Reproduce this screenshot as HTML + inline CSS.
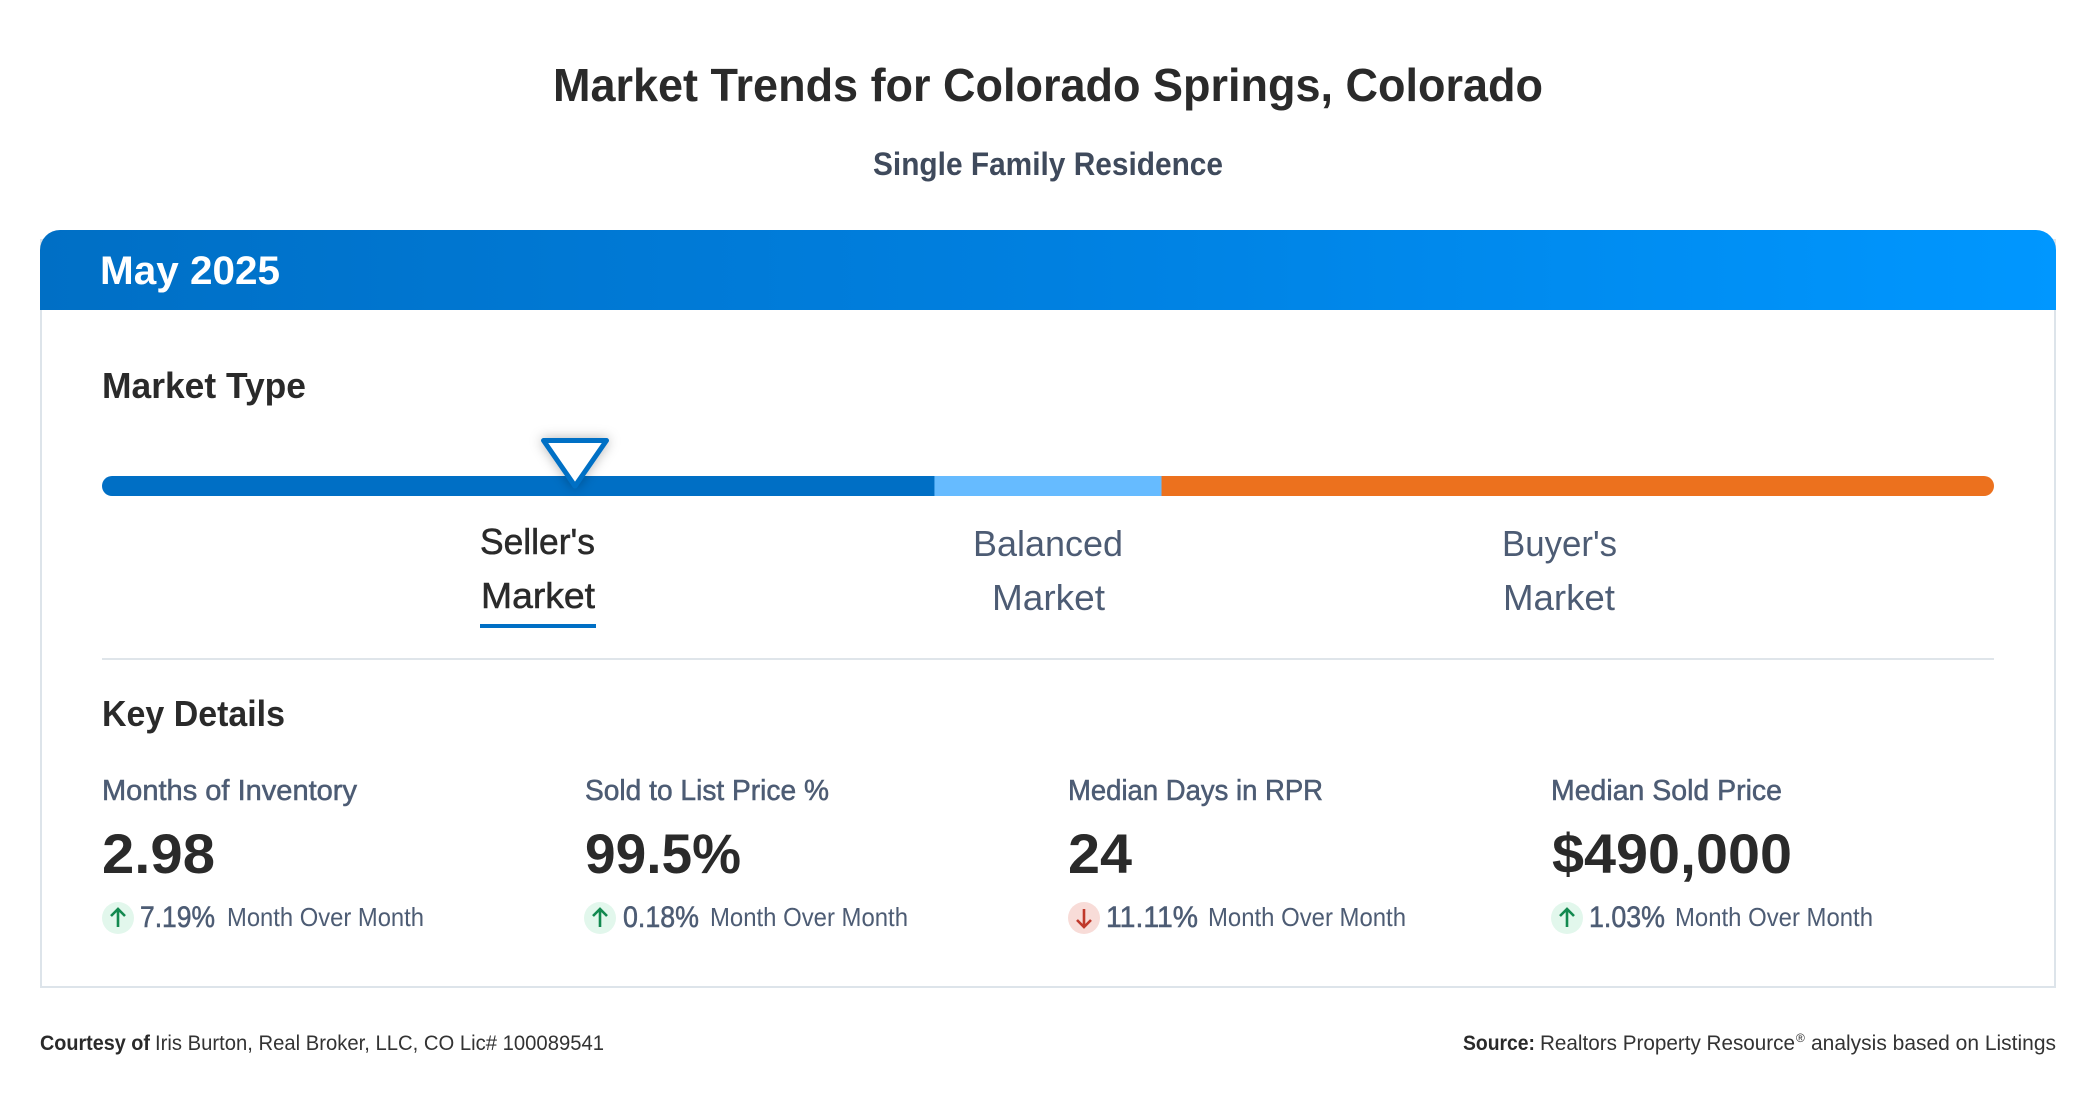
<!DOCTYPE html>
<html lang="en">
<head>
<meta charset="utf-8">
<title>Market Trends for Colorado Springs, Colorado</title>
<style>
html,body{margin:0;padding:0;background:#fff;width:2096px;height:1100px;overflow:hidden}
svg{display:block}
text{font-family:"Liberation Sans",Arial,sans-serif}
.b{font-weight:700}
.dark{fill:#2a2a2a}
.slate{fill:#4d5c74}
.m{stroke-width:0.55px}
.slate.m{stroke:#4d5c74}
.dark.m{stroke:#2a2a2a}
</style>
</head>
<body>
<svg id="page" width="2096" height="1100" viewBox="0 0 2096 1100" xmlns="http://www.w3.org/2000/svg">
<defs>
<linearGradient id="hdr" x1="0" y1="0" x2="1" y2="0"><stop offset="0" stop-color="#006fc5"/><stop offset="0.5" stop-color="#0080e0"/><stop offset="1" stop-color="#0097ff"/></linearGradient>
<clipPath id="barClip"><rect x="102" y="476" width="1892" height="20" rx="10"/></clipPath>
<filter id="mshadow" x="-50%" y="-50%" width="200%" height="200%"><feDropShadow dx="0" dy="0" stdDeviation="6" flood-color="#000" flood-opacity="0.3"/></filter>
</defs>
<rect width="2096" height="1100" fill="#fff"/>

<text class="b dark" x="553" y="101" font-size="46" textLength="990" lengthAdjust="spacingAndGlyphs">Market Trends for Colorado Springs, Colorado</text>
<text class="b" fill="#3f4a5c" x="873" y="175" font-size="32" textLength="350" lengthAdjust="spacingAndGlyphs">Single Family Residence</text>

<rect x="41" y="240" width="2014" height="747" fill="#fff" stroke="#dde4ea" stroke-width="2"/>
<path d="M40 310V250a20 20 0 0 1 20-20H2036a20 20 0 0 1 20 20V310Z" fill="url(#hdr)"/>
<text class="b" fill="#fff" x="100" y="284" font-size="40" textLength="180" lengthAdjust="spacingAndGlyphs">May 2025</text>

<text class="b dark" x="102" y="398" font-size="36" textLength="204" lengthAdjust="spacingAndGlyphs">Market Type</text>

<g id="scale"></g>

<text class="dark m" x="480" y="554" font-size="36" textLength="115" lengthAdjust="spacingAndGlyphs">Seller's</text>
<text class="dark m" x="481" y="608" font-size="36" textLength="114" lengthAdjust="spacingAndGlyphs">Market</text>
<rect x="480" y="624" width="116" height="4" fill="#006fc5"/>

<text class="slate" x="973" y="556" font-size="36" textLength="150" lengthAdjust="spacingAndGlyphs">Balanced</text>
<text class="slate" x="992" y="610" font-size="36" textLength="113" lengthAdjust="spacingAndGlyphs">Market</text>
<text class="slate" x="1502" y="556" font-size="36" textLength="115" lengthAdjust="spacingAndGlyphs">Buyer's</text>
<text class="slate" x="1503" y="610" font-size="36" textLength="112" lengthAdjust="spacingAndGlyphs">Market</text>

<rect x="102" y="658" width="1892" height="2" fill="#dfe5ea"/>

<text class="b dark" x="102" y="726" font-size="36" textLength="183" lengthAdjust="spacingAndGlyphs">Key Details</text>

<!-- Months of Inventory -->
<g>
<text class="slate m" x="102" y="800" font-size="29" textLength="255" lengthAdjust="spacingAndGlyphs">Months of Inventory</text>
<text class="b dark" x="102" y="873" font-size="56" textLength="113" lengthAdjust="spacingAndGlyphs">2.98</text>
<circle cx="118" cy="918" r="16" fill="#e2f7ec"/>
<path d="M118 927V910M111 916l7-7 7 7" fill="none" stroke="#12894f" stroke-width="2.6"/>
<text class="slate m" x="140" y="927" font-size="30" textLength="75" lengthAdjust="spacingAndGlyphs">7.19%</text>
<text class="slate" x="227" y="926" font-size="26" textLength="197" lengthAdjust="spacingAndGlyphs">Month Over Month</text>
</g>

<!-- Sold to List -->
<g>
<text class="slate m" x="585" y="800" font-size="29" textLength="244" lengthAdjust="spacingAndGlyphs">Sold to List Price %</text>
<text class="b dark" x="585" y="873" font-size="56" textLength="156" lengthAdjust="spacingAndGlyphs">99.5%</text>
<circle cx="600" cy="918" r="16" fill="#e2f7ec"/>
<path d="M600 927V910M593 916l7-7 7 7" fill="none" stroke="#12894f" stroke-width="2.6"/>
<text class="slate m" x="623" y="927" font-size="30" textLength="76" lengthAdjust="spacingAndGlyphs">0.18%</text>
<text class="slate" x="710" y="926" font-size="26" textLength="198" lengthAdjust="spacingAndGlyphs">Month Over Month</text>
</g>

<!-- Median Days -->
<g>
<text class="slate m" x="1068" y="800" font-size="29" textLength="255" lengthAdjust="spacingAndGlyphs">Median Days in RPR</text>
<text class="b dark" x="1068" y="873" font-size="56" textLength="64" lengthAdjust="spacingAndGlyphs">24</text>
<circle cx="1084" cy="918" r="16" fill="#f8dcd8"/>
<path d="M1084 909V926M1077 920l7 7 7-7" fill="none" stroke="#c0392b" stroke-width="2.6"/>
<text class="slate m" x="1106" y="927" font-size="30" textLength="92" lengthAdjust="spacingAndGlyphs">11.11%</text>
<text class="slate" x="1208" y="926" font-size="26" textLength="198" lengthAdjust="spacingAndGlyphs">Month Over Month</text>
</g>

<!-- Median Sold Price -->
<g>
<text class="slate m" x="1551" y="800" font-size="29" textLength="231" lengthAdjust="spacingAndGlyphs">Median Sold Price</text>
<text class="b dark" x="1552" y="873" font-size="56" textLength="240" lengthAdjust="spacingAndGlyphs">$490,000</text>
<circle cx="1567" cy="918" r="16" fill="#e2f7ec"/>
<path d="M1567 927V910M1560 916l7-7 7 7" fill="none" stroke="#12894f" stroke-width="2.6"/>
<text class="slate m" x="1589" y="927" font-size="30" textLength="76" lengthAdjust="spacingAndGlyphs">1.03%</text>
<text class="slate" x="1675" y="926" font-size="26" textLength="198" lengthAdjust="spacingAndGlyphs">Month Over Month</text>
</g>

<!-- Footer -->
<text class="b dark" x="40" y="1050" font-size="21" textLength="110" lengthAdjust="spacingAndGlyphs">Courtesy of</text>
<text fill="#333" x="155" y="1050" font-size="21" textLength="449" lengthAdjust="spacingAndGlyphs">Iris Burton, Real Broker, LLC, CO Lic# 100089541</text>
<text class="b dark" x="1463" y="1050" font-size="21" textLength="72" lengthAdjust="spacingAndGlyphs">Source:</text>
<text fill="#333" x="1540" y="1050" font-size="21" textLength="255" lengthAdjust="spacingAndGlyphs">Realtors Property Resource</text>
<text fill="#333" x="1796" y="1042" font-size="12">®</text>
<text fill="#333" x="1811" y="1050" font-size="21" textLength="245" lengthAdjust="spacingAndGlyphs">analysis based on Listings</text>
</svg>

<script>
const segmentNames = ['sellers', 'balanced', 'buyers'];
const segmentBreaks = [0, 44, 56, 100];
const segmentColors = ['#006fc5', '#66bbff', '#ec711e'];
const markerValue = [25];

const scaleLeft = 102, scaleWidth = 1892, scaleTop = 476, scaleHeight = 20;
function xAxis(v) { return scaleLeft + v / 100 * scaleWidth; }

const NS = 'http://www.w3.org/2000/svg';
const scaleGroup = document.getElementById('scale');
const clipGroup = document.createElementNS(NS, 'g');
clipGroup.setAttribute('clip-path', 'url(#barClip)');
scaleGroup.appendChild(clipGroup);

segmentNames.forEach(function (name, i) {
  const seg = document.createElementNS(NS, 'rect');
  
  
  seg.setAttribute('x', xAxis(segmentBreaks[i]));
  seg.setAttribute('y', scaleTop);
  seg.setAttribute('width', xAxis(segmentBreaks[i + 1]) - xAxis(segmentBreaks[i]));
  seg.setAttribute('height', scaleHeight);
  seg.setAttribute('fill', segmentColors[i]);
  clipGroup.appendChild(seg);
});

const marker = document.createElementNS(NS, 'path');


marker.setAttribute('transform', 'translate(' + xAxis(markerValue[0]) + ',' + scaleTop + ')');
marker.setAttribute('d', 'M-31.5 -35.5H31.5L0 10Z');
marker.setAttribute('fill', '#fff');
marker.setAttribute('stroke', '#006fc5');
marker.setAttribute('stroke-width', '5');
marker.setAttribute('stroke-linejoin', 'round');
marker.setAttribute('filter', 'url(#mshadow)');
scaleGroup.appendChild(marker);
</script>
</body>
</html>
